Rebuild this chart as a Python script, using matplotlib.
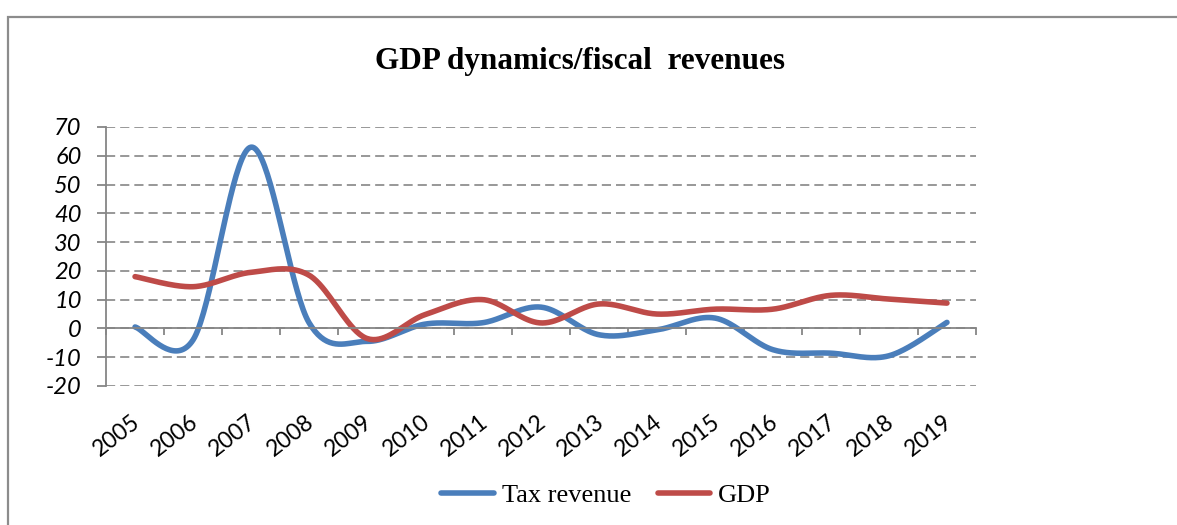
"""GDP dynamics vs fiscal (tax) revenue, Excel-style smoothed lines."""

import matplotlib
import numpy as np

matplotlib.use("Agg")
import matplotlib.pyplot as plt
from matplotlib.patches import Rectangle

YEARS = [str(y) for y in range(2005, 2020)]
TAX = [0.5, -4, 63, 2, -4.5, 1.5, 2, 7.4, -2.2, -0.5, 3.6, -7.4, -8.6, -9.5, 2.1]
GDP = [18, 14.5, 19.5, 18.5, -3.5, 4.8, 10, 1.9, 8.5, 5, 6.7, 6.7, 11.5, 10.2, 8.8]
Y_TICKS = list(range(-20, 71, 10))

BLUE = "#4A7EBB"
RED = "#BE4B48"
GRID = "#868686"


def smooth(values, n=40):
    """Catmull-Rom style Bezier through every point (what Excel's smoothed line does)."""
    y = np.asarray(values, dtype=float)
    x = np.arange(len(y), dtype=float)
    yp = np.concatenate([[y[0]], y, [y[-1]]])
    xp = np.concatenate([[x[0]], x, [x[-1]]])
    t = np.linspace(0, 1, n)[:, None]
    xs, ys = [], []
    for i in range(len(y) - 1):
        px = [xp[i + 1], xp[i + 1] + (xp[i + 2] - xp[i]) / 6,
              xp[i + 2] - (xp[i + 3] - xp[i + 1]) / 6, xp[i + 2]]
        py = [yp[i + 1], yp[i + 1] + (yp[i + 2] - yp[i]) / 6,
              yp[i + 2] - (yp[i + 3] - yp[i + 1]) / 6, yp[i + 2]]
        b = np.hstack([(1 - t) ** 3, 3 * (1 - t) ** 2 * t, 3 * (1 - t) * t ** 2, t ** 3])
        xs.append(b @ np.array(px))
        ys.append(b @ np.array(py))
    return np.concatenate(xs), np.concatenate(ys)


def main() -> None:
    fig = plt.figure(figsize=(11.77, 5.25), dpi=100)
    ax = fig.add_axes([0.0901, 0.2648, 0.7391, 0.4933])

    # chart frame (runs off the right and bottom edge like the source)
    fig.patches.append(Rectangle((0.0068, -0.2), 1.2, 0.2 + 0.9676,
                                 transform=fig.transFigure, fill=False,
                                 edgecolor="#8c8c8c", lw=1.6, clip_on=False))

    for vals, color, label in ((TAX, BLUE, "Tax revenue"), (GDP, RED, "GDP")):
        sx, sy = smooth(vals)
        ax.plot(sx, sy, color=color, lw=4, solid_capstyle="round", label=label)

    ax.set_xlim(-0.5, len(YEARS) - 0.5)
    ax.set_ylim(Y_TICKS[0], Y_TICKS[-1])
    ax.set_yticks(Y_TICKS)
    ax.set_yticklabels([str(v) for v in Y_TICKS], fontstyle="italic",
                       family="Lato", fontsize=17)
    ax.yaxis.grid(True, color=GRID, ls=(0, (5.5, 3)), lw=1.2)
    ax.set_axisbelow(True)

    for side in ("top", "right"):
        ax.spines[side].set_visible(False)
    ax.spines["left"].set_color(GRID)
    ax.spines["left"].set_linewidth(1.3)
    ax.spines["bottom"].set_position(("data", 0))
    ax.spines["bottom"].set_color(GRID)
    ax.spines["bottom"].set_linewidth(1.3)
    ax.tick_params(axis="y", length=6.5, width=1.3, color=GRID, pad=11)
    ax.set_xticks(np.arange(len(YEARS) + 1) - 0.5)
    ax.tick_params(axis="x", length=5, width=1.3, color=GRID, labelbottom=False)

    for i, year in enumerate(YEARS):
        ax.annotate(year, (i, 0), xycoords=("data", "axes fraction"),
                    xytext=(-3, -18), textcoords="offset points", rotation=38,
                    ha="right", va="top", rotation_mode="anchor",
                    family="Lato", fontsize=16.5)

    fig.text(0.493, 0.882, "GDP dynamics/fiscal  revenues", ha="center",
             va="center", family="Liberation Serif", fontweight="bold",
             fontsize=22.5)

    fig.legend(loc="center", bbox_to_anchor=(0.515, 0.057), ncol=2,
               frameon=False, handlelength=2.0, handletextpad=0.3,
               columnspacing=1.0, prop={"family": "Liberation Serif", "size": 19})

    fig.savefig("out.png", dpi=100)


if __name__ == "__main__":
    main()
